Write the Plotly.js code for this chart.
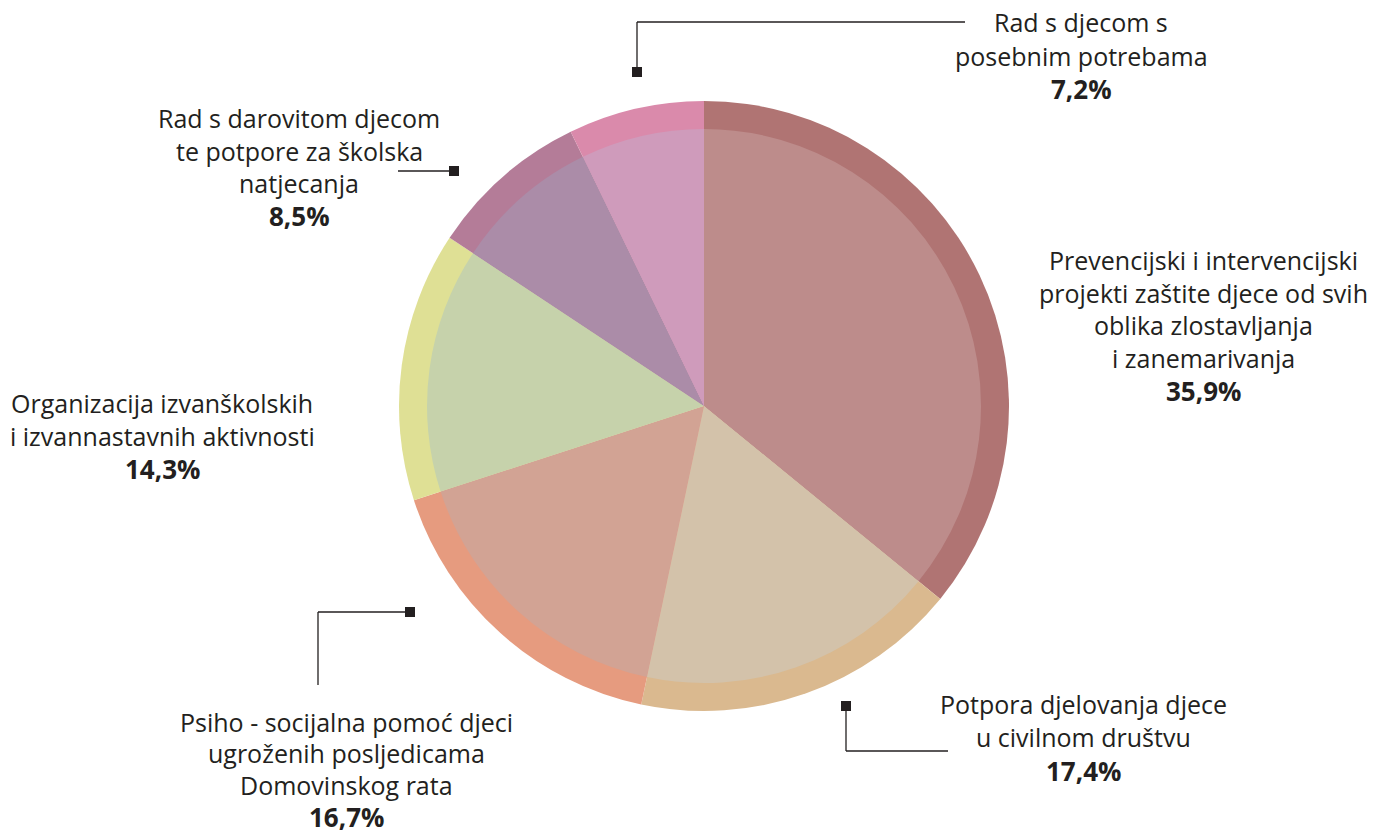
<!DOCTYPE html>
<html>
<head>
<meta charset="utf-8">
<script src="https://cdn.plot.ly/plotly-3.0.1.min.js"></script>
<style>
  body { margin: 0; background: #fff; }
  #chart { width: 1381px; height: 837px; }
</style>
</head>
<body>
<div id="chart"></div>
<script>
const W = 1381;
const H = 837;

// data, clockwise from 12 o'clock
const categories = [
  'Prevencijski i intervencijski projekti zaštite djece od svih oblika zlostavljanja i zanemarivanja',
  'Potpora djelovanja djece u civilnom društvu',
  'Psiho - socijalna pomoć djeci ugroženih posljedicama Domovinskog rata',
  'Organizacija izvanškolskih i izvannastavnih aktivnosti',
  'Rad s darovitom djecom te potpore za školska natjecanja',
  'Rad s djecom s posebnim potrebama'
];
const shares = [35.9, 17.4, 16.7, 14.3, 8.5, 7.2];
const labelLines = [
  ['Prevencijski i intervencijski', 'projekti zaštite djece od svih', 'oblika zlostavljanja', 'i zanemarivanja'],
  ['Potpora djelovanja djece', 'u civilnom društvu'],
  ['Psiho - socijalna pomoć djeci', 'ugroženih posljedicama', 'Domovinskog rata'],
  ['Organizacija izvanškolskih', 'i izvannastavnih aktivnosti'],
  ['Rad s darovitom djecom', 'te potpore za školska', 'natjecanja'],
  ['Rad s djecom s', 'posebnim potrebama']
];
const outerColors = ['#b07473', '#dab98f', '#e69b7f', '#dfe095', '#b47c98', '#da8aab'];
const innerColors = ['#bd8c8b', '#d3c2aa', '#d2a394', '#c6d2ab', '#ab8ca8', '#cf9bbb'];

// pixel helpers
const px = (x) => x / W;
const py = (y) => 1 - y / H;

// pie geometry (pixels)
const cx = 704, cy = 406, rOuter = 305, rInner = 277;
function domainFor(r) {
  return {x: [px(cx - r), px(cx + r)], y: [py(cy + r), py(cy - r)]};
}

function pieTrace(colors, r) {
  return {
    type: 'pie',
    values: shares,
    labels: categories,
    sort: false,
    direction: 'clockwise',
    rotation: 0,
    textinfo: 'none',
    hoverinfo: 'label+percent',
    showlegend: false,
    domain: domainFor(r),
    marker: {colors: colors, line: {width: 0}}
  };
}

// label placement: center x, first-line baseline y, line gap (pixels)
const labelPos = [
  [1203, 270, 32.5],
  [1083, 713, 33.5],
  [346, 731, 31.8],
  [162, 413, 32.5],
  [299, 128, 32.5],
  [1081, 32, 33]
];
const ink = '#231f20';
const fontSize = 25;

const annotations = [];
labelLines.forEach((lines, i) => {
  const [x, y0, gap] = labelPos[i];
  const all = lines.concat([shares[i].toFixed(1).replace('.', ',') + '%']);
  all.forEach((txt, j) => {
    const bold = j === all.length - 1;
    annotations.push({
      xref: 'paper', yref: 'paper',
      x: px(x), y: py(y0 + j * gap - 9.5),
      xanchor: 'center', yanchor: 'middle',
      showarrow: false,
      borderpad: 0,
      text: bold ? '<b>' + txt + '</b>' : txt,
      font: {family: 'Open Sans, sans-serif', size: bold ? 26 : fontSize, color: ink}
    });
  });
});

// leader lines
const leaders = [
  [[637, 72], [637, 22], [965, 22]],
  [[454, 171], [398, 171]],
  [[410, 612], [318, 612], [318, 685]],
  [[846, 706], [846, 751], [948, 751]]
];
const shapes = [];
leaders.forEach((pts) => {
  for (let k = 0; k < pts.length - 1; k++) {
    shapes.push({
      type: 'line', xref: 'paper', yref: 'paper',
      x0: px(pts[k][0]), y0: py(pts[k][1]),
      x1: px(pts[k + 1][0]), y1: py(pts[k + 1][1]),
      line: {color: ink, width: 1.3}
    });
  }
  const [sx, sy] = pts[0];
  shapes.push({
    type: 'rect', xref: 'paper', yref: 'paper',
    x0: px(sx - 5), x1: px(sx + 5),
    y0: py(sy + 5), y1: py(sy - 5),
    fillcolor: ink, line: {width: 0}
  });
});

const layout = {
  width: W,
  height: H,
  margin: {l: 0, r: 0, t: 0, b: 0},
  paper_bgcolor: '#ffffff',
  showlegend: false,
  annotations: annotations,
  shapes: shapes
};

Plotly.newPlot('chart', [pieTrace(outerColors, rOuter), pieTrace(innerColors, rInner)], layout, {staticPlot: true});
</script>
</body>
</html>
